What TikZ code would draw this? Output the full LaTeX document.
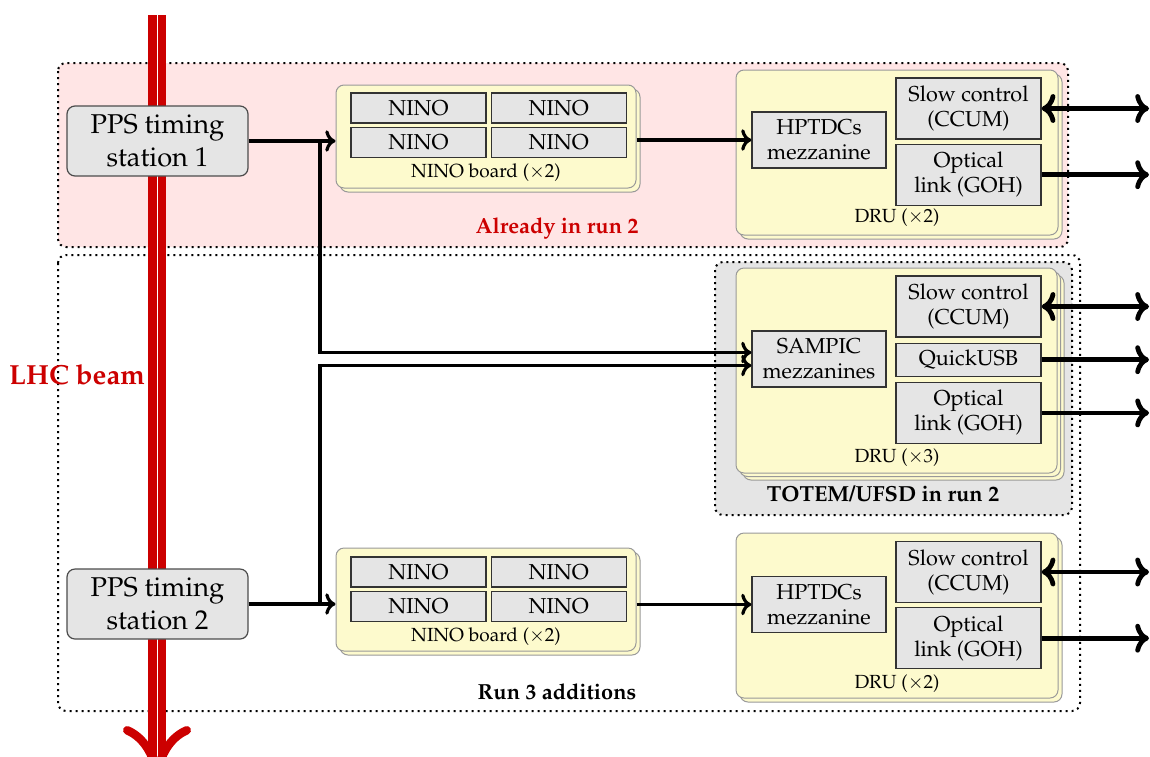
\documentclass[tikz,border=0pt]{standalone}
\usepackage[T1]{fontenc}
\usepackage{mathpazo}
\usepackage{tikz}
\usetikzlibrary{positioning,arrows.meta}

\definecolor{beamred}{RGB}{204,0,0}
\definecolor{cardyellow}{RGB}{253,250,205}

\begin{document}
\begin{tikzpicture}[x=0.5pt, y=-0.5pt,
  station/.style={draw=black!70, fill=gray!20, rounded corners=4pt, align=center, font=\fontsize{13.6}{16.5}\selectfont, minimum width=90.5pt, minimum height=35pt, line width=0.6pt},
  chip/.style={draw=black!80, fill=gray!20, align=center, inner sep=1pt, line width=0.6pt, font=\fontsize{10.8}{12.5}\selectfont},
  card/.style={draw=black!40, fill=cardyellow, rounded corners=4pt, line width=0.5pt},
  cardlabel/.style={font=\fontsize{9.5}{11}\selectfont},
  region/.style={dotted, line width=1pt, rounded corners=4pt},
  conn/.style={line width=1.6pt, -{To}},
  outconn/.style={line width=2.4pt}]
  \useasboundingbox (0,0) rectangle (1150,756);

  % regions
  \draw[region, fill=red!10] (58,63) rectangle (1068,247);
  \draw[region] (58,255) rectangle (1080,711);
  \draw[region, fill=gray!20] (715,262) rectangle (1072,515);
  \node[font=\fontsize{10.9}{13}\selectfont\bfseries, text=beamred] (run2lbl) at (557,228) {Already in run 2};
  \node[font=\fontsize{10.9}{13}\selectfont\bfseries] (totemlbl) at (883,494) {TOTEM/UFSD in run 2};
  \node[font=\fontsize{10.9}{13}\selectfont\bfseries] (run3lbl) at (557,692) {Run 3 additions};

  % LHC beam
  \draw[draw=beamred, line width=4.25pt, double=white, double distance=0.5pt, -{To[length=26pt, width=34pt]}] (157,15) -- (157,778);
  \node[font=\fontsize{13.8}{16}\selectfont\bfseries, text=beamred] (beamlbl) at (77,375) {LHC beam};

  % timing stations
  \node[station] (pps1) at (157.5,141) {PPS timing\\station 1};
  \node[station] (pps2) at (157.5,604) {PPS timing\\station 2};

  % NINO boards
  \node[card, minimum width=150pt, minimum height=51.5pt] (board1back) at (490,140.5) {};
  \node[card, minimum width=150pt, minimum height=51.5pt] (board1) at (486,136.5) {};
  \node[chip, minimum width=67.5pt, minimum height=15pt] (nino1a) at (418.5,108) {NINO};
  \node[chip, minimum width=67.5pt, minimum height=15pt] (nino1b) [right=2pt of nino1a] {NINO};
  \node[chip, minimum width=67.5pt, minimum height=15pt] (nino1c) [below=1.5pt of nino1a] {NINO};
  \node[chip, minimum width=67.5pt, minimum height=15pt] (nino1d) [below=1.5pt of nino1b] {NINO};
  \node[cardlabel] (board1lbl) at (486,173) {NINO board ($\times$2)};

  \node[card, minimum width=150pt, minimum height=51.5pt] (board2back) at (490,603.5) {};
  \node[card, minimum width=150pt, minimum height=51.5pt] (board2) at (486,599.5) {};
  \node[chip, minimum width=67.5pt, minimum height=15pt] (nino2a) at (418.5,572) {NINO};
  \node[chip, minimum width=67.5pt, minimum height=15pt] (nino2b) [right=2pt of nino2a] {NINO};
  \node[chip, minimum width=67.5pt, minimum height=15pt] (nino2c) [below=1.5pt of nino2a] {NINO};
  \node[chip, minimum width=67.5pt, minimum height=15pt] (nino2d) [below=1.5pt of nino2b] {NINO};
  \node[cardlabel] (board2lbl) at (486,637) {NINO board ($\times$2)};

  % DRUs
  \node[card, minimum width=161pt, minimum height=82.5pt] (dru1back) at (901,156.5) {};
  \node[card, minimum width=161pt, minimum height=82.5pt] (dru1) at (897,152.5) {};
  \node[chip, minimum width=67pt, minimum height=28pt] (hptdc1) at (819,140) {HPTDCs\\mezzanine};
  \node[chip, minimum width=72.5pt, minimum height=30.5pt] (slow1) at (968.5,108.5) {Slow control\\(CCUM)};
  \node[chip, minimum width=72.5pt, minimum height=30.5pt] (optical1) [below=2pt of slow1] {Optical\\link (GOH)};
  \node[cardlabel] (dru1lbl) at (897,218) {DRU ($\times$2)};

  \node[card, minimum width=160.5pt, minimum height=102.5pt] (drutotemback2) at (903.5,377.5) {};
  \node[card, minimum width=160.5pt, minimum height=102.5pt] (drutotemback1) at (900,374) {};
  \node[card, minimum width=160.5pt, minimum height=102.5pt] (drutotem) at (896.5,370.5) {};
  \node[chip, minimum width=67pt, minimum height=28pt] (sampic) at (819,359) {SAMPIC\\mezzanines};
  \node[chip, minimum width=72.5pt, minimum height=30.5pt] (slow2) at (968.5,306.5) {Slow control\\(CCUM)};
  \node[chip, minimum width=72.5pt, minimum height=16.5pt] (quickusb) [below=2.5pt of slow2] {QuickUSB};
  \node[chip, minimum width=72.5pt, minimum height=30.5pt] (optical2) [below=2.5pt of quickusb] {Optical\\link (GOH)};
  \node[cardlabel] (drutotemlbl) at (897,458) {DRU ($\times$3)};

  \node[card, minimum width=161pt, minimum height=82.5pt] (dru2back) at (901,619.5) {};
  \node[card, minimum width=161pt, minimum height=82.5pt] (dru2) at (897,615.5) {};
  \node[chip, minimum width=67pt, minimum height=28pt] (hptdc2) at (819,604.5) {HPTDCs\\mezzanine};
  \node[chip, minimum width=72.5pt, minimum height=30.5pt] (slow3) at (968.5,572) {Slow control\\(CCUM)};
  \node[chip, minimum width=72.5pt, minimum height=30.5pt] (optical3) [below=2pt of slow3] {Optical\\link (GOH)};
  \node[cardlabel] (dru2lbl) at (897,684) {DRU ($\times$2)};

  % signal paths
  \coordinate (split1) at (320,141);
  \coordinate (split2) at (320,604);
  \draw[conn] (pps1) -- (pps1 -| board1.west);
  \draw[conn] (pps2) -- (pps2 -| board2.west);
  \draw[conn] (split1) |- ([yshift=3.25pt]sampic.west);
  \draw[conn] (split2) |- ([yshift=-3.25pt]sampic.west);
  \draw[conn] (board1.east |- hptdc1) -- (hptdc1);
  \draw[conn] (board2.east |- hptdc2) -- (hptdc2);

  % outputs
  \coordinate (edge) at (1149,0);
  \draw[outconn, {To}-{To}] (slow1) -- (slow1 -| edge);
  \draw[outconn, -{To}] (optical1) -- (optical1 -| edge);
  \draw[outconn, {To}-{To}] (slow2) -- (slow2 -| edge);
  \draw[outconn, -{To}] (quickusb) -- (quickusb -| edge);
  \draw[outconn, -{To}] (optical2) -- (optical2 -| edge);
  \draw[outconn, {To}-{To}] (slow3) -- (slow3 -| edge);
  \draw[outconn, -{To}] (optical3) -- (optical3 -| edge);
\end{tikzpicture}
\end{document}
